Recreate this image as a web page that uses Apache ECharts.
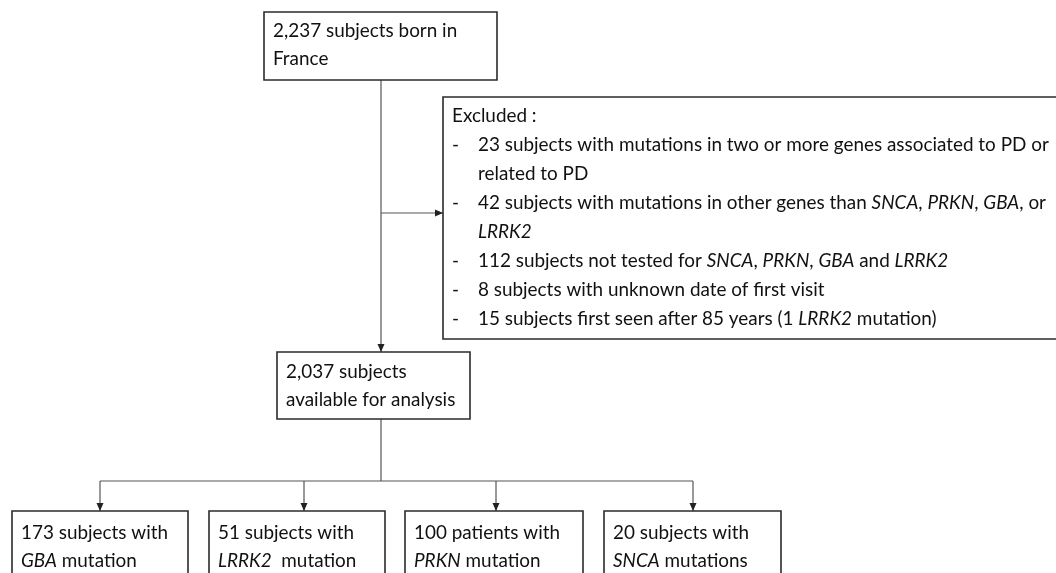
<!DOCTYPE html>
<html>
<head>
<meta charset="utf-8">
<script src="https://cdn.jsdelivr.net/npm/echarts@6/dist/echarts.min.js"></script>
<style>
  html, body { margin: 0; padding: 0; background: #fff; }
  #chart { width: 1056px; height: 573px; }
</style>
</head>
<body>
<div id="chart"></div>
<script>
// box texts, {i|...} marks an italic gene name
const topBoxLines = ['2,237 subjects born in', 'France'];
const analysisLines = ['2,037 subjects', 'available for analysis'];
const excludedTitle = 'Excluded :';
const excludedItems = [
  ['23 subjects with mutations in two or more genes associated to PD or', 'related to PD'],
  ['42 subjects with mutations in other genes than {i|SNCA}, {i|PRKN}, {i|GBA}, or', '{i|LRRK2}'],
  ['112 subjects not tested for {i|SNCA}, {i|PRKN}, {i|GBA} and {i|LRRK2}'],
  ['8 subjects with unknown date of first visit'],
  ['15 subjects first seen after 85 years (1 {i|LRRK2} mutation)']
];
const groupLines = [
  ['173 subjects with', '{i|GBA} mutation'],
  ['51 subjects with', '{i|LRRK2}  mutation'],
  ['100 patients with', '{i|PRKN} mutation'],
  ['20 subjects with', '{i|SNCA} mutations']
];

const FONT = 'Lato';
const FS = 18.9;
const INK = '#111';

// layout (chart units = page pixels, y grows downward)
const boxLayout = [
  { rect: [264, 12, 497, 80], textTop: 17, lh: 28 },
  { rect: [443, 97, 1090, 339], textTop: 101.5, lh: 29 },
  { rect: [277, 352, 470, 419], textTop: 358, lh: 28 },
  { rect: [12, 511, 188, 620], textTop: 519, lh: 28 },
  { rect: [209, 511, 385, 620], textTop: 519, lh: 28 },
  { rect: [405, 511, 583, 620], textTop: 519, lh: 28 },
  { rect: [604, 511, 781, 620], textTop: 519, lh: 28 }
];
// [x0, y0, x1, y1, arrowAtEnd]
const connectors = [
  [381, 80, 381, 352, 1],
  [381, 213, 443, 213, 1],
  [381, 419, 381, 481, 0],
  [100, 481, 693, 481, 0],
  [100, 481, 100, 511, 1],
  [304, 481, 304, 511, 1],
  [496, 481, 496, 511, 1],
  [693, 481, 693, 511, 1]
];

// text columns for each box: [dx from box left, lines]
function excludedColumns() {
  const dashes = [''];
  const body = [''];
  excludedItems.forEach(function (item) {
    item.forEach(function (line, k) {
      dashes.push(k === 0 ? '-' : '');
      body.push(line);
    });
  });
  return [[9, [excludedTitle]], [9, dashes], [35, body]];
}
const boxColumns = [
  [[9, topBoxLines]],
  excludedColumns(),
  [[9, analysisLines]]
].concat(groupLines.map(function (g) { return [[9, g]]; }));

function textEl(x, y, lines, lh) {
  return {
    type: 'text',
    x: x,
    y: y,
    style: {
      text: lines.join('\n'),
      fill: INK,
      fontFamily: FONT,
      fontSize: FS,
      lineHeight: lh,
      align: 'left',
      verticalAlign: 'top',
      rich: {
        i: { fontFamily: FONT, fontSize: FS, fontStyle: 'italic', lineHeight: lh, fill: INK }
      }
    }
  };
}

const chart = echarts.init(document.getElementById('chart'));
chart.setOption({
  animation: false,
  backgroundColor: '#fff',
  grid: { left: 0, right: 0, top: 0, bottom: 0 },
  xAxis: { type: 'value', min: 0, max: 1056, show: false },
  yAxis: { type: 'value', min: 0, max: 573, inverse: true, show: false },
  series: [
    {
      type: 'custom',
      silent: true,
      data: connectors,
      encode: { x: [0, 2], y: [1, 3] },
      renderItem: function (params, api) {
        const a = api.coord([api.value(0), api.value(1)]);
        const b = api.coord([api.value(2), api.value(3)]);
        const children = [{
          type: 'line',
          shape: { x1: a[0], y1: a[1], x2: b[0], y2: b[1] },
          style: { stroke: '#555', lineWidth: 1.2 }
        }];
        if (api.value(4)) {
          const dx = b[0] - a[0], dy = b[1] - a[1];
          const len = Math.sqrt(dx * dx + dy * dy);
          const ux = dx / len, uy = dy / len;
          const bx = b[0] - ux * 8, by = b[1] - uy * 8;
          children.push({
            type: 'polygon',
            shape: { points: [[b[0], b[1]], [bx - uy * 3.5, by + ux * 3.5], [bx + uy * 3.5, by - ux * 3.5]] },
            style: { fill: '#222' }
          });
        }
        return { type: 'group', children: children };
      }
    },
    {
      type: 'custom',
      silent: true,
      data: boxLayout.map(function (b) { return b.rect; }),
      encode: { x: [0, 2], y: [1, 3] },
      renderItem: function (params, api) {
        const L = boxLayout[params.dataIndex];
        const p0 = api.coord([api.value(0), api.value(1)]);
        const p1 = api.coord([api.value(2), api.value(3)]);
        const top = api.coord([api.value(0), L.textTop]);
        const children = [{
          type: 'rect',
          shape: { x: p0[0], y: p0[1], width: p1[0] - p0[0], height: p1[1] - p0[1] },
          style: { fill: '#fff', stroke: '#2b2b2b', lineWidth: 1.6 }
        }];
        boxColumns[params.dataIndex].forEach(function (col) {
          children.push(textEl(p0[0] + col[0], top[1], col[1], L.lh));
        });
        return { type: 'group', children: children };
      }
    }
  ]
});
</script>
</body>
</html>
